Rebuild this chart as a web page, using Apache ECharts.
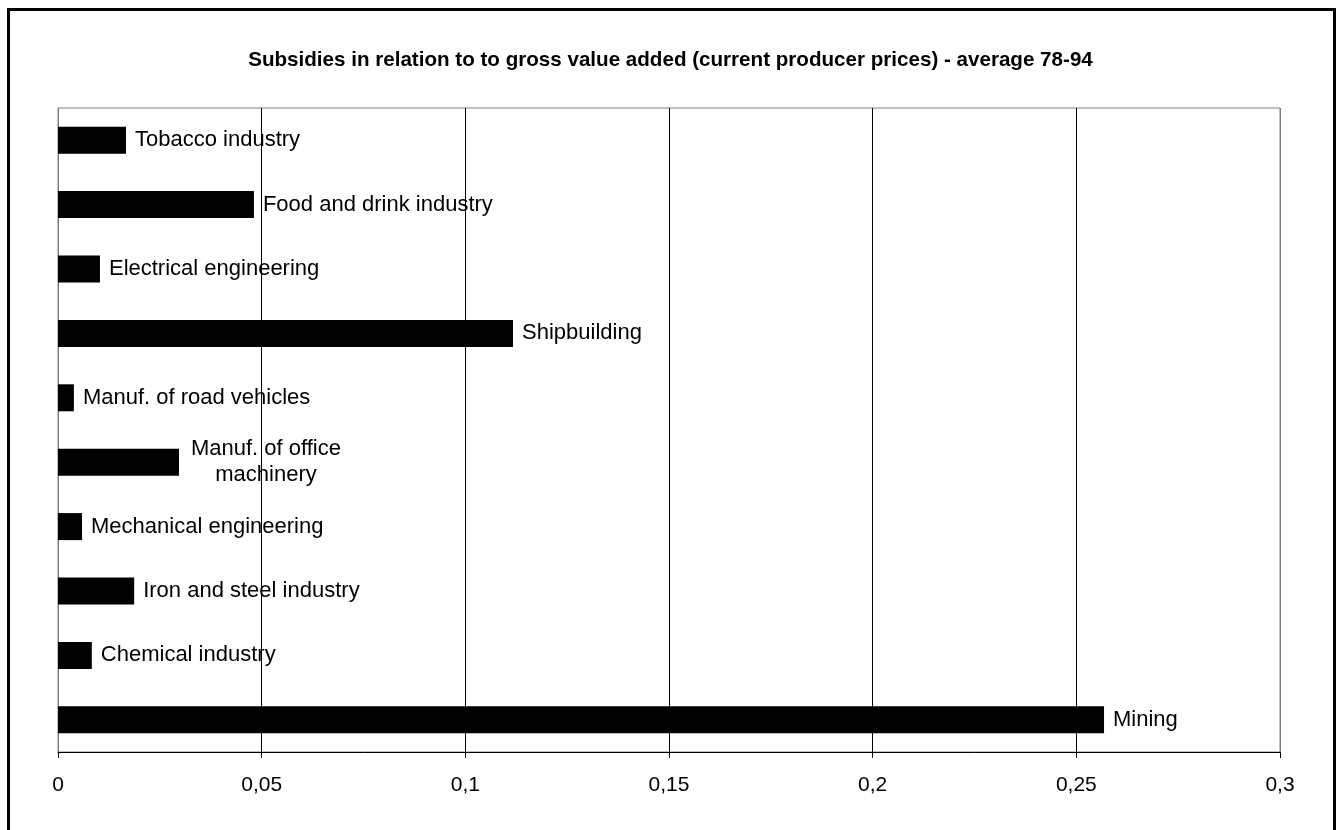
<!DOCTYPE html>
<html>
<head>
<meta charset="utf-8">
<script src="https://cdn.jsdelivr.net/npm/echarts@6/dist/echarts.min.js"></script>
<style>html,body{margin:0;padding:0;background:#fff;}#c{width:1341px;height:830px;}</style>
</head>
<body>
<div id="c"></div>
<script>
const titleText = 'Subsidies in relation to to gross value added (current producer prices) - average 78-94';
const categories = ['Tobacco industry','Food and drink industry','Electrical engineering','Shipbuilding','Manuf. of road vehicles','Manuf. of office machinery','Mechanical engineering','Iron and steel industry','Chemical industry','Mining'];
const values = [0.0167,0.0481,0.0103,0.1117,0.0039,0.0297,0.0059,0.0187,0.0083,0.2568];
const xTicks = [0,0.05,0.1,0.15,0.2,0.25,0.3];

const FONT = '"Liberation Sans", Arial, sans-serif';
const chart = echarts.init(document.getElementById('c'), null, {renderer:'canvas'});
const data = values.map((v,i)=>{
  const item = {value:v, name:categories[i]};
  if (categories[i] === 'Manuf. of office machinery') {
    item.label = {formatter:'Manuf. of office\nmachinery', align:'center', offset:[78,0], lineHeight:26};
  }
  return item;
});
chart.setOption({
  animation:false,
  backgroundColor:'#fff',
  title:{text:titleText,left:'center',top:45,textStyle:{fontFamily:FONT,fontSize:20.6,fontWeight:'bold',color:'#000'}},
  grid:{left:58,right:61,top:108,bottom:78,show:true,borderColor:'#808080',borderWidth:1,containLabel:false},
  xAxis:{type:'value',min:xTicks[0],max:xTicks[xTicks.length-1],interval:0.05,
    axisLine:{show:true,lineStyle:{color:'#000',width:1}},
    axisTick:{show:true,length:6,lineStyle:{color:'#000'}},
    axisLabel:{fontFamily:FONT,fontSize:21,color:'#000',margin:23,formatter:v=>String(+v.toFixed(2)).replace('.',',')},
    splitLine:{show:true,lineStyle:{color:['#808080','#000','#000','#000','#000','#000','#808080'],width:1}}},
  yAxis:{type:'category',data:categories,inverse:true,
    axisLine:{show:true,lineStyle:{color:'#808080'}},axisTick:{show:false},axisLabel:{show:false},splitLine:{show:false}},
  series:[{type:'bar',data:data,barWidth:27,itemStyle:{color:'#000'},
    label:{show:true,position:'right',distance:9,color:'#000',fontFamily:FONT,fontSize:22,formatter:p=>p.name}}],
  graphic:[{type:'rect',shape:{x:8.5,y:9.5,width:1326,height:840},style:{fill:'none',stroke:'#000',lineWidth:3},z:100}]
});
</script>
</body>
</html>
